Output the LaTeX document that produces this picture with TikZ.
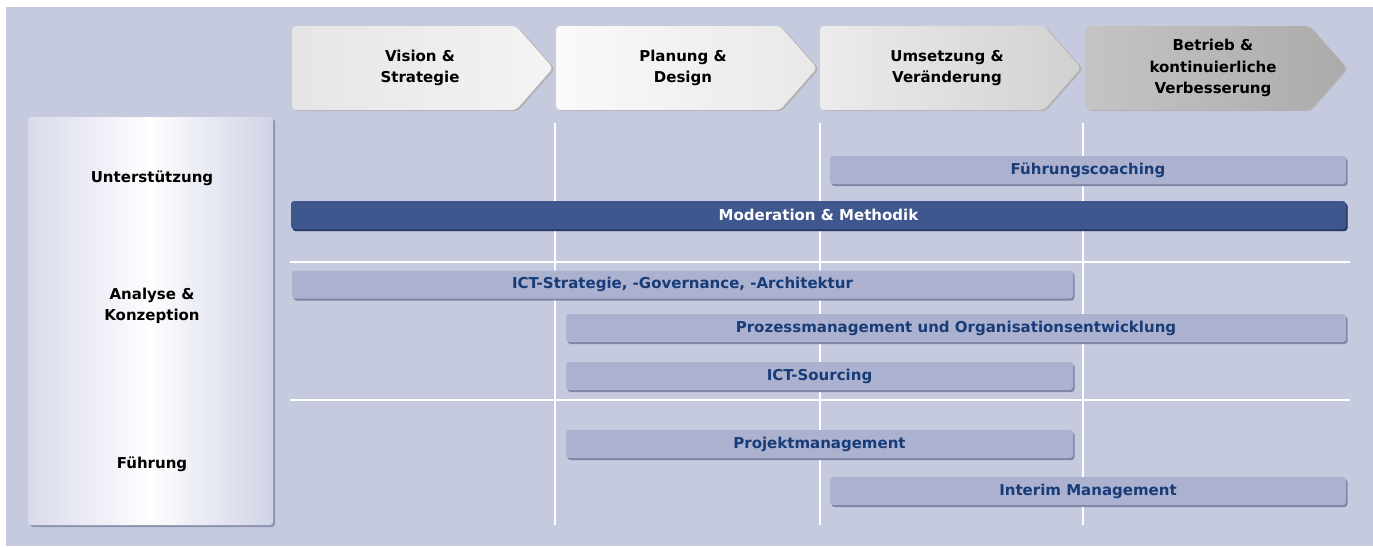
\documentclass[tikz,border=0pt]{standalone}
\usepackage{fontspec}
\setmainfont{DejaVu Sans}
\usetikzlibrary{shadows}

\definecolor{bgfill}{HTML}{C6CADF}
\definecolor{barfill}{HTML}{ABB1CF}
\definecolor{barshade}{HTML}{7E86A5}
\definecolor{modfill}{HTML}{3E578E}
\definecolor{modshade}{HTML}{2A3C66}
\definecolor{bartext}{HTML}{173C78}
\definecolor{panelleft}{HTML}{D9DBEC}
\definecolor{panelright}{HTML}{D0D3E6}
\definecolor{panelshade}{HTML}{8C93AE}

\begin{document}
\begin{tikzpicture}[x=1pt, y=-1pt,
  every node/.style={font=\bfseries\fontsize{15}{21.5}\selectfont, align=center, inner sep=0pt},
  phase/.style={rounded corners=4pt, drop shadow={shadow xshift=2pt, shadow yshift=-1pt, fill=gray!60, opacity=1}},
  bar/.style={rounded corners=3pt, fill=barfill, text=bartext, minimum height=28pt, drop shadow={shadow xshift=1.5pt, shadow yshift=-2pt, fill=barshade, opacity=1}},
  gridline/.style={draw=white, line width=1.2pt}]
  \useasboundingbox (0,0) rectangle (1373,546);
  \fill[bgfill] (6,7) rectangle (1373,546);

  \draw[gridline] (555,123) -- (555,525);
  \draw[gridline] (820,123) -- (820,525);
  \draw[gridline] (1083,123) -- (1083,525);
  \draw[gridline] (290,262) -- (1350,262);
  \draw[gridline] (290,400) -- (1350,400);

  \node[rounded corners=3pt, minimum width=245pt, minimum height=408pt, left color=panelleft, right color=panelright, middle color=white!97!panelright, drop shadow={shadow xshift=2pt, shadow yshift=-2pt, fill=panelshade, opacity=1}] (panel) at (150.5,321) {};
  \node (unterstuetzung) at (152,178) {Unterstützung};
  \node (analyse) at (152,306) {Analyse \&\\Konzeption};
  \node (fuehrung) at (152,464) {Führung};

  \path[phase, left color=gray!20, right color=gray!9] (292,26) -- (516,26) -- (553,68) -- (516,110) -- (292,110) -- cycle;
  \path[phase, left color=gray!4, right color=gray!18] (556,26) -- (780,26) -- (817,68) -- (780,110) -- (556,110) -- cycle;
  \path[phase, left color=gray!15, right color=gray!36] (820,26) -- (1044,26) -- (1081,68) -- (1044,110) -- (820,110) -- cycle;
  \path[phase, left color=gray!46, right color=gray!66] (1085,26) -- (1309,26) -- (1346,68) -- (1309,110) -- (1085,110) -- cycle;
  \node (vision) at (420,68) {Vision \&\\Strategie};
  \node (planung) at (683,68) {Planung \&\\Design};
  \node (umsetzung) at (947,68) {Umsetzung \&\\Veränderung};
  \node (betrieb) at (1213,68) {Betrieb \&\\kontinuierliche\\Verbesserung};

  \node[bar, minimum width=516pt] (coaching) at (1088,170) {Führungscoaching};
  \node[bar, fill=modfill, text=white, minimum width=1055pt, drop shadow={shadow xshift=1.5pt, shadow yshift=-2pt, fill=modshade, opacity=1}] (moderation) at (818.5,215) {Moderation \& Methodik};
  \node[bar, minimum width=781pt] (strategie) at (682.5,284.5) {ICT-Strategie, -Governance, -Architektur};
  \node[bar, minimum width=780pt] (prozess) at (956,328) {Prozessmanagement und Organisationsentwicklung};
  \node[bar, minimum width=507pt] (sourcing) at (819.5,376) {ICT-Sourcing};
  \node[bar, minimum width=507pt] (projekt) at (819.5,444) {Projektmanagement};
  \node[bar, minimum width=516pt] (interim) at (1088,491) {Interim Management};
\end{tikzpicture}
\end{document}
